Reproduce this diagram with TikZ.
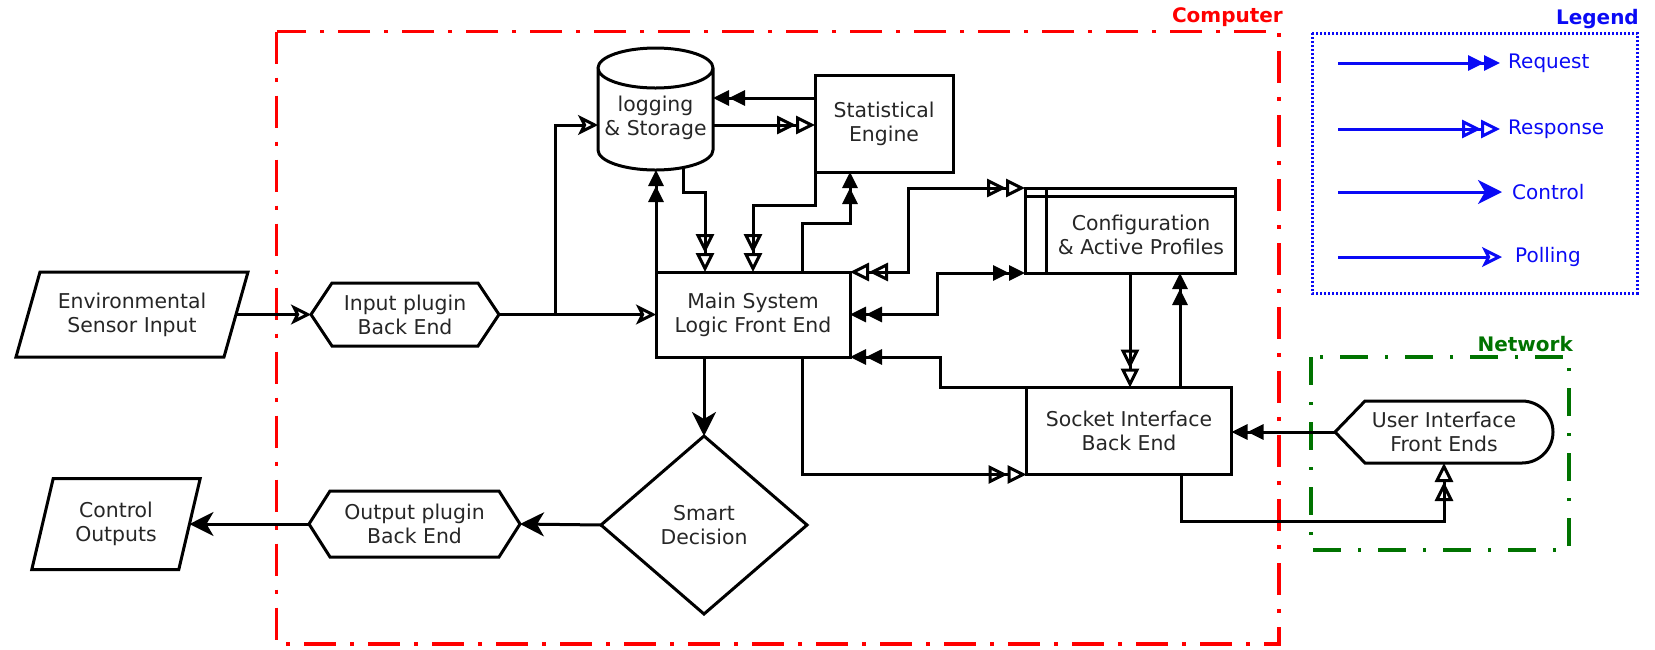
\documentclass[tikz,border=0pt]{standalone}
\usepackage{fontspec}
\setmainfont{DejaVu Sans}
\usetikzlibrary{arrows.meta,calc}
\definecolor{cred}{RGB}{255,0,0}
\definecolor{cgreen}{RGB}{0,115,0}
\definecolor{cblue}{RGB}{10,10,245}
\tikzset{
  lbl/.style={align=center, font=\fontsize{20.4}{24}\selectfont, text=black!85, inner sep=0pt, outer sep=0pt},
  boxed/.style={lbl, draw=black, line width=3pt},
  shp/.style={draw=black, line width=3pt, line join=miter},
  conn/.style={line width=3pt},
  reqtip/.tip={Triangle[length=16pt,width=15pt]Triangle[length=16pt,width=15pt]},
  restip/.tip={Triangle[open,length=19pt,width=18pt]Triangle[open,length=19pt,width=18pt]},
  request/.style={conn, -reqtip},
  response/.style={conn, -restip},
  reqboth/.style={conn, reqtip-reqtip},
  resboth/.style={conn, restip-restip},
  control/.style={conn, -{Stealth[length=24pt,width=24pt,inset=7pt]}},
  polling/.style={conn, -{Stealth[open,length=20pt,width=20pt,inset=5pt]}},
  framelbl/.style={font=\fontsize{20}{24}\selectfont\bfseries, inner sep=0pt, anchor=east},
  legtxt/.style={font=\fontsize{20}{24}\selectfont, text=cblue, inner sep=0pt, anchor=west},
}
\begin{document}
\begin{tikzpicture}[x=1pt,y=-1pt]
\useasboundingbox (0,0) rectangle (1655,649);

% frames
\draw[cred, line width=3.2pt, dash pattern=on 32pt off 14pt on 4pt off 14pt] (276.5,31.7) rectangle (1279,644);
\node[framelbl, text=cred] (complbl) at (1283,17) {Computer};
\draw[cblue, line width=3pt, dash pattern=on 2pt off 2pt] (1312,33) rectangle (1637,293);
\node[framelbl, text=cblue] (leglbl) at (1639,19) {Legend};
\draw[cgreen, line width=3.2pt, dash pattern=on 28pt off 17pt on 3pt off 17pt] (1311,357) rectangle (1569,550);
\node[framelbl, text=cgreen] (netlbl) at (1573,344) {Network};

% legend
\node[legtxt] (l1) at (1508,63) {Request};
\node[legtxt] (l2) at (1508,129) {Response};
\node[legtxt] (l3) at (1512,192) {Control};
\node[legtxt] (l4) at (1515,257) {Polling};
\coordinate (l1s) at (1338,63);
\coordinate (l2s) at (1338,129);
\coordinate (l3s) at (1338,192);
\coordinate (l4s) at (1338,257);
\draw[request, draw=cblue, fill=cblue] (l1s) -- ($(l1.west)+(-8,0)$);
\draw[response, draw=cblue] (l2s) -- ($(l2.west)+(-8,0)$);
\draw[control, draw=cblue, fill=cblue] (l3s) -- ($(l3.west)+(-10,0)$);
\draw[polling, draw=cblue] (l4s) -- ($(l4.west)+(-13,0)$);

% nodes
\node[lbl, minimum width=208pt, minimum height=85pt] (env) at (132,314.5) {Environmental\\Sensor Input};
\draw[shp] ($(env.north west)+(12,0)$) -- ($(env.north east)+(12,0)$) -- ($(env.south east)+(-12,0)$) -- ($(env.south west)+(-12,0)$) -- cycle;

\node[lbl, minimum width=188pt, minimum height=63pt] (input) at (405,314.5) {Input plugin\\Back End};
\draw[shp] (input.west) -- ($(input.north west)+(21,0)$) -- ($(input.north east)+(-21,0)$) -- (input.east) -- ($(input.south east)+(-21,0)$) -- ($(input.south west)+(21,0)$) -- cycle;

\node[boxed, minimum width=194pt, minimum height=85pt] (main) at (753,314.5) {Main System\\Logic Front End};

\node[lbl, minimum width=115pt, minimum height=105pt] (cyl) at (655.5,117.5) {logging\\\& Storage};
\draw[shp] ($(cyl.north west)+(0,3)$) -- ($(cyl.south west)+(0,-20)$)
  arc[start angle=180, end angle=360, x radius=57.5pt, y radius=20pt]
  -- ($(cyl.north east)+(0,3)$)
  arc[start angle=0, end angle=180, x radius=57.5pt, y radius=20pt]
  arc[start angle=180, end angle=360, x radius=57.5pt, y radius=20pt];

\node[boxed, minimum width=138pt, minimum height=97pt] (stat) at (884,123.5) {Statistical\\Engine};

\node[boxed, minimum width=210pt, minimum height=85pt] (config) at (1130,230.5) {};
\draw[shp] ($(config.north west)+(0,8)$) -- ($(config.north east)+(0,8)$);
\draw[shp] ($(config.north west)+(21,0)$) -- ($(config.south west)+(21,0)$);
\node[lbl] (configtxt) at ($(config.center)+(11,4)$) {Configuration\\\& Active Profiles};

\node[boxed, minimum width=205pt, minimum height=87pt] (socket) at (1129,431) {Socket Interface\\Back End};

\node[lbl, minimum width=218pt, minimum height=62pt] (ui) at (1444,432) {User Interface\\Front Ends};
\draw[shp] (ui.west) -- ($(ui.north west)+(30,0)$) -- ($(ui.north east)+(-31,0)$)
  arc[start angle=90, end angle=-90, x radius=31pt, y radius=31pt]
  -- ($(ui.south west)+(30,0)$) -- cycle;

\node[lbl, minimum width=206pt, minimum height=178pt] (smart) at (704,525) {Smart\\Decision};
\draw[shp] (smart.north) -- (smart.east) -- (smart.south) -- (smart.west) -- cycle;

\node[lbl, minimum width=211pt, minimum height=66pt] (output) at (414.5,524) {Output plugin\\Back End};
\draw[shp] (output.west) -- ($(output.north west)+(21,0)$) -- ($(output.north east)+(-21,0)$) -- (output.east) -- ($(output.south east)+(-21,0)$) -- ($(output.south west)+(21,0)$) -- cycle;

\node[lbl, minimum width=147pt, minimum height=91pt] (ctrl) at (116,524) {Control\\Outputs};
\draw[shp] ($(ctrl.north west)+(10.7,0)$) -- ($(ctrl.north east)+(10.7,0)$) -- ($(ctrl.south east)+(-10.7,0)$) -- ($(ctrl.south west)+(-10.7,0)$) -- cycle;

% connectors
\draw[polling] (env.east) -- (input.west);
\draw[polling] (input.east) -- (main.west);
\coordinate (jn) at (555,314.5);
\coordinate (a1) at ($(stat.west)+(0,-25.5)$);
\coordinate (a2) at ($(stat.west)+(0,1.5)$);
\draw[polling] (jn) |- (cyl.west |- a2);
\draw[request] (main.north west) -- (main.north west |- cyl.south);
\draw[response] ($(cyl.south)+(27.5,-2.6)$) -- ++(0,25) -| ($(main.north west)+(49,0)$);
\draw[request] (a1) -- (a1 -| cyl.east);
\draw[response] (a2 -| cyl.east) -- (a2);
\draw[response] (stat.south west) -- ++(0,33) -| (main.north);
\draw[request] ($(main.north)+(49,0)$) -- ++(0,-49) -| ($(stat.south)+(-34,0)$);
\draw[resboth] (main.north east) -- ++(58,0) |- (config.north west);
\draw[reqboth] (main.east) -- ++(87,0) |- (config.south west);
\draw[request] (socket.north west) -- ++(-86,0) |- (main.south east);
\draw[response] (config.south) -- (config.south |- socket.north);
\coordinate (b1) at ($(socket.north)+(51,0)$);
\draw[request] (b1) -- (b1 |- config.south);
\draw[response] ($(main.south)+(49,0)$) |- (socket.south west);
\draw[control] (smart.north |- main.south) -- (smart.north);
\draw[control] (smart.west) -- (output.east);
\draw[control] (output.west) -- (ctrl.east);
\draw[request] (ui.west) -- (ui.west -| socket.east);
\draw[response] ($(socket.south)+(52,0)$) -- ++(0,47) -| (ui.south);
\end{tikzpicture}
\end{document}
